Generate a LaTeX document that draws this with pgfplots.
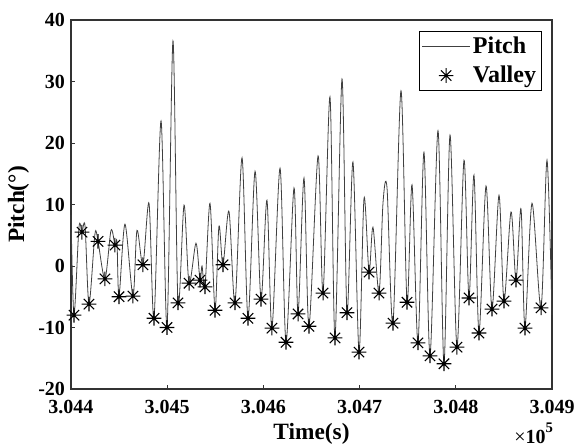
\documentclass[border=0pt]{standalone}
\usepackage{fontspec}
\setmainfont{Liberation Serif}
\usepackage{pgfplots}
\usepackage{pgfplotstable}
\pgfplotsset{compat=1.18}

% time is stored as seconds after 3.044e5 s
\pgfplotstableread{
t y
0.0 8.3
3.1 -8.0
8.3 6.3
11.4 5.5
14.6 6.5
18.7 -6.2
24.9 5.2
28.1 4.0
35.3 -2.1
41.6 5.8
45.7 3.4
47.8 3.9
49.9 -5.0
56.1 6.8
64.4 -4.9
68.6 5.8
74.8 0.2
81.1 10.2
86.3 -8.5
93.6 23.6
99.8 -10.0
106.0 36.6
111.2 -6.0
117.5 9.9
122.7 -2.8
129.9 3.7
134.1 -2.3
136.2 0.0
139.3 -3.4
144.5 10.2
149.7 -7.2
153.8 6.5
158.0 0.2
164.2 8.9
170.5 -6.0
177.8 17.6
184.0 -8.5
191.3 15.4
197.5 -5.4
203.7 10.7
208.9 -10.1
217.3 15.9
223.5 -12.4
231.8 12.7
236.0 -7.8
242.2 14.3
247.4 -9.8
256.8 17.9
262.0 -4.4
269.2 27.5
274.4 -11.7
281.7 30.4
286.9 -7.6
293.1 16.9
299.4 -14.0
304.6 11.0
309.8 -1.0
313.9 6.3
320.2 -4.4
324.3 10.2
328.5 12.7
334.7 -9.3
343.0 28.5
349.3 -5.9
354.5 13.2
360.7 -12.5
366.9 18.5
373.2 -14.6
381.5 22.0
387.7 -15.9
394.0 21.3
401.2 -13.2
408.5 17.2
413.7 -5.2
418.9 14.8
424.1 -10.9
431.4 13.0
437.6 -7.0
444.9 11.5
450.1 -5.7
457.4 8.8
462.6 -2.3
467.8 9.3
471.9 -10.1
479.2 10.2
488.6 -6.8
494.8 17.2
500.0 -8.0
}\pitch

\pgfplotstableread{
t y
3.1 -8.0
11.4 5.5
18.7 -6.2
28.1 4.0
35.3 -2.1
45.7 3.4
49.9 -5.0
64.4 -4.9
74.8 0.2
86.3 -8.5
99.8 -10.0
111.2 -6.0
122.7 -2.8
134.1 -2.3
139.3 -3.4
149.7 -7.2
158.0 0.2
170.5 -6.0
184.0 -8.5
197.5 -5.4
208.9 -10.1
223.5 -12.4
236.0 -7.8
247.4 -9.8
262.0 -4.4
274.4 -11.7
286.9 -7.6
299.4 -14.0
309.8 -1.0
320.2 -4.4
334.7 -9.3
349.3 -5.9
360.7 -12.5
373.2 -14.6
387.7 -15.9
401.2 -13.2
413.7 -5.2
424.1 -10.9
437.6 -7.0
450.1 -5.7
462.6 -2.3
471.9 -10.1
488.6 -6.8
}\valley

\pgfdeclareplotmark{mstar}{%
  \pgfpathmoveto{\pgfqpoint{-\pgfplotmarksize}{0pt}}%
  \pgfpathlineto{\pgfqpoint{\pgfplotmarksize}{0pt}}%
  \pgfpathmoveto{\pgfqpoint{0pt}{-\pgfplotmarksize}}%
  \pgfpathlineto{\pgfqpoint{0pt}{\pgfplotmarksize}}%
  \pgfpathmoveto{\pgfqpoint{-0.707\pgfplotmarksize}{-0.707\pgfplotmarksize}}%
  \pgfpathlineto{\pgfqpoint{0.707\pgfplotmarksize}{0.707\pgfplotmarksize}}%
  \pgfpathmoveto{\pgfqpoint{-0.707\pgfplotmarksize}{0.707\pgfplotmarksize}}%
  \pgfpathlineto{\pgfqpoint{0.707\pgfplotmarksize}{-0.707\pgfplotmarksize}}%
  \pgfusepathqstroke}

\pgfplotsset{
  pitchlegend/.style={legend image code/.code={\draw[##1] (0cm,0cm) -- (1.25cm,0cm);}},
  valleylegend/.style={legend image code/.code={\draw[##1] plot coordinates {(0.625cm,0cm)};}},
}

\begin{document}
\begin{tikzpicture}
\begin{axis}[
  scale only axis,
  width=360.75pt, height=276.75pt,
  xmin=0, xmax=500, ymin=-20, ymax=40,
  clip=false,
  xtick={0,100,200,300,400,500},
  xticklabels={3.044,3.045,3.046,3.047,3.048,3.049},
  ytick={-20,-10,0,10,20,30,40},
  yticklabels={-20,-10,0,10,20,30,40},
  xtick pos=bottom, ytick pos=left,
  tick align=inside, major tick length=3pt,
  axis line style={line width=0.9pt, black!80},
  tick style={black!80, line width=0.7pt},
  /pgf/number format/assume math mode=true,
  tick label style={font=\fontsize{15}{17}\bfseries},
  xticklabel style={yshift=-5pt},
  yticklabel style={xshift=-1pt},
  label style={font=\fontsize{17.5}{20}\bfseries},
  xlabel={Time(s)}, ylabel={Pitch(°)},
  legend style={at={(rel axis cs:0.979,0.97)}, anchor=north east,
    draw=black, line width=0.8pt, font=\fontsize{18}{20}\bfseries,
    inner sep=2pt, row sep=4pt},
  legend cell align=left,
]
\addplot[black!75, line width=0.6pt, smooth, tension=0.5, pitchlegend]
  table[x=t, y=y] {\pitch};
\addplot[only marks, mark=mstar, mark size=5.5pt, black, line width=0.8pt, valleylegend]
  table[x=t, y=y] {\valley};
\legend{Pitch, Valley}
\coordinate (sw) at (rel axis cs:0,0);
\coordinate (se) at (rel axis cs:1,0);
\coordinate (ne) at (rel axis cs:1,1);
\end{axis}
\node[anchor=north east, inner sep=0pt, font=\fontsize{15}{17}\selectfont]
  at ([yshift=-25pt, xshift=1pt]se) {×\textbf{10}\raisebox{0.55em}{\fontsize{11}{12}\selectfont\bfseries 5}};
\pgfresetboundingbox
\path[use as bounding box] ([xshift=-53.25pt, yshift=-44.25pt]sw) rectangle ([xshift=16.5pt, yshift=15pt]ne);
\end{tikzpicture}
\end{document}
